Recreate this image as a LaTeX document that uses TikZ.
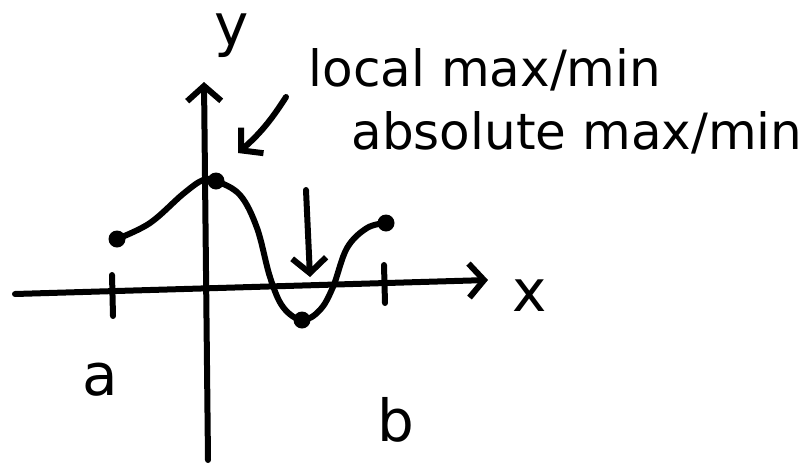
\documentclass[tikz,border=0pt]{standalone}
\usepackage{fontspec}
\setmainfont{DejaVu Sans}
\usetikzlibrary{arrows.meta}
\begin{document}
\begin{tikzpicture}[x=1pt,y=-1pt,
  ink/.style={line width=6pt,line cap=round,line join=round},
  tip/.style={-{Straight Barb[length=15pt,width=34pt,line width=6pt]}},
  dotnode/.style={circle,fill=black,inner sep=0pt,minimum size=17pt},
  lbl/.style={font=\fontsize{50}{54}\selectfont,inner sep=0pt},
  big/.style={font=\fontsize{58}{60}\selectfont,inner sep=0pt}]
\useasboundingbox (0,0) rectangle (809,464);
% axes
\coordinate (xs) at (15,294);
\coordinate (xe) at (488,280);
\coordinate (ys) at (208,460);
\coordinate (ye) at (204,82);
\draw[ink,tip] (xs) -- (xe);
\draw[ink,tip] (ys) -- (ye);
% ticks
\coordinate (t1a) at (112,275); \coordinate (t1b) at (113,316);
\coordinate (t2a) at (384,265); \coordinate (t2b) at (385,303);
\draw[ink] (t1a) -- (t1b);
\draw[ink] (t2a) -- (t2b);
% curve
\node[dotnode] (p1) at (117,239) {};
\node[dotnode] (p2) at (216,181) {};
\node[dotnode] (p3) at (302,320) {};
\node[dotnode] (p4) at (386,223) {};
\draw[ink] plot[smooth,tension=0.6] coordinates {(117,239) (150,223) (183,194) (203,180) (216,181) (240,195) (257,228) (270,277) (283,307) (302,320) (320,310) (333,287) (347,248) (367,228) (386,223)};
% arrows
\coordinate (a1s) at (286,97);
\coordinate (a1e) at (238,153);
\draw[ink,tip] (a1s) to[bend left=8] (a1e);
\coordinate (a2s) at (306,190);
\coordinate (a2e) at (310,277);
\draw[ink,tip] (a2s) -- (a2e);
% labels
\node[big] (ly) at (232,36) {y};
\node[big] (lx) at (530,296) {x};
\node[big] (la) at (100,380) {a};
\node[big] (lb) at (396,420) {b};
\node[lbl] (t1) at (485,70) {local max/min};
\node[lbl] (t2) at (577,133) {absolute max/min};
\end{tikzpicture}
\end{document}
